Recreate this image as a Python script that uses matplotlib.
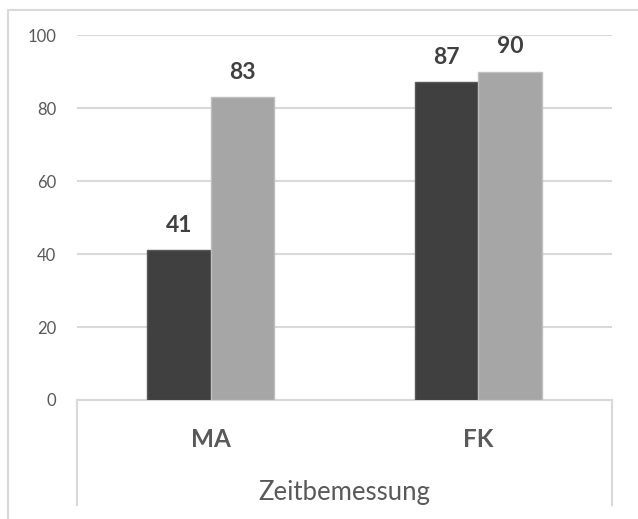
import numpy as np
import matplotlib.pyplot as plt
from matplotlib.lines import Line2D
from matplotlib.patches import Rectangle

categories = ['MA', 'FK']
series_a = [41, 87]
series_b = [83, 90]
group_label = 'Zeitbemessung'
y_ticks = [0, 20, 40, 60, 80, 100]

plt.rcParams['font.family'] = ['Lato', 'DejaVu Sans']

W, H = 638, 519
fig = plt.figure(figsize=(W / 100, H / 100), dpi=100)

# plot area in pixel coordinates
left, right, top, bottom = 77, 612, 35, 400
ax = fig.add_axes([left / W, 1 - bottom / H, (right - left) / W, (bottom - top) / H])

x = np.arange(len(categories))
bw = 0.237
ax.bar(x - bw / 2, series_a, bw, color='#404040', edgecolor='#595959', linewidth=1, zorder=3)
ax.bar(x + bw / 2, series_b, bw, color='#a6a6a6', edgecolor='#bfbfbf', linewidth=1, zorder=3)

for xs, vals in ((x - bw / 2, series_a), (x + bw / 2, series_b)):
    for xi, v in zip(xs, vals):
        ax.annotate(str(v), (xi, v), xytext=(0, 13), textcoords='offset points',
                    ha='center', va='baseline', fontsize=16.5, fontweight='bold',
                    color='#404040')

ax.set_xlim(-0.5, len(categories) - 0.5)
ax.set_ylim(0, 100)
ax.set_yticks(y_ticks)
ax.yaxis.grid(True, color='#d9d9d9', linewidth=1.5, zorder=0)
ax.tick_params(axis='y', length=0, pad=15, labelsize=12, labelcolor='#595959')
ax.set_xticks([])
for s in ['top', 'right', 'left']:
    ax.spines[s].set_visible(False)
ax.spines['bottom'].set_color('#d9d9d9')
ax.spines['bottom'].set_linewidth(1.5)

# two-level category axis below the plot
box_bottom = 505
for px in (left, right):
    fig.add_artist(Line2D([px / W, px / W], [1 - bottom / H, 1 - box_bottom / H],
                          color='#d9d9d9', linewidth=1.5))
for xi, name in zip(x, categories):
    ax.text(xi, -(447 - bottom) / (bottom - top), name, transform=ax.get_xaxis_transform(),
            ha='center', va='baseline', fontsize=17.5, fontweight='bold', color='#595959')
fig.text((left + right) / 2 / W, 1 - 500 / H, group_label, ha='center', va='baseline',
         fontsize=18.5, color='#595959')

# chart area frame
fig.add_artist(Rectangle((8 / W, -0.1), 1, 1 - 10 / H + 0.1, transform=fig.transFigure,
                         fill=False, edgecolor='#d9d9d9', linewidth=1.5))

fig.savefig('out.png', dpi=100, facecolor='white')
